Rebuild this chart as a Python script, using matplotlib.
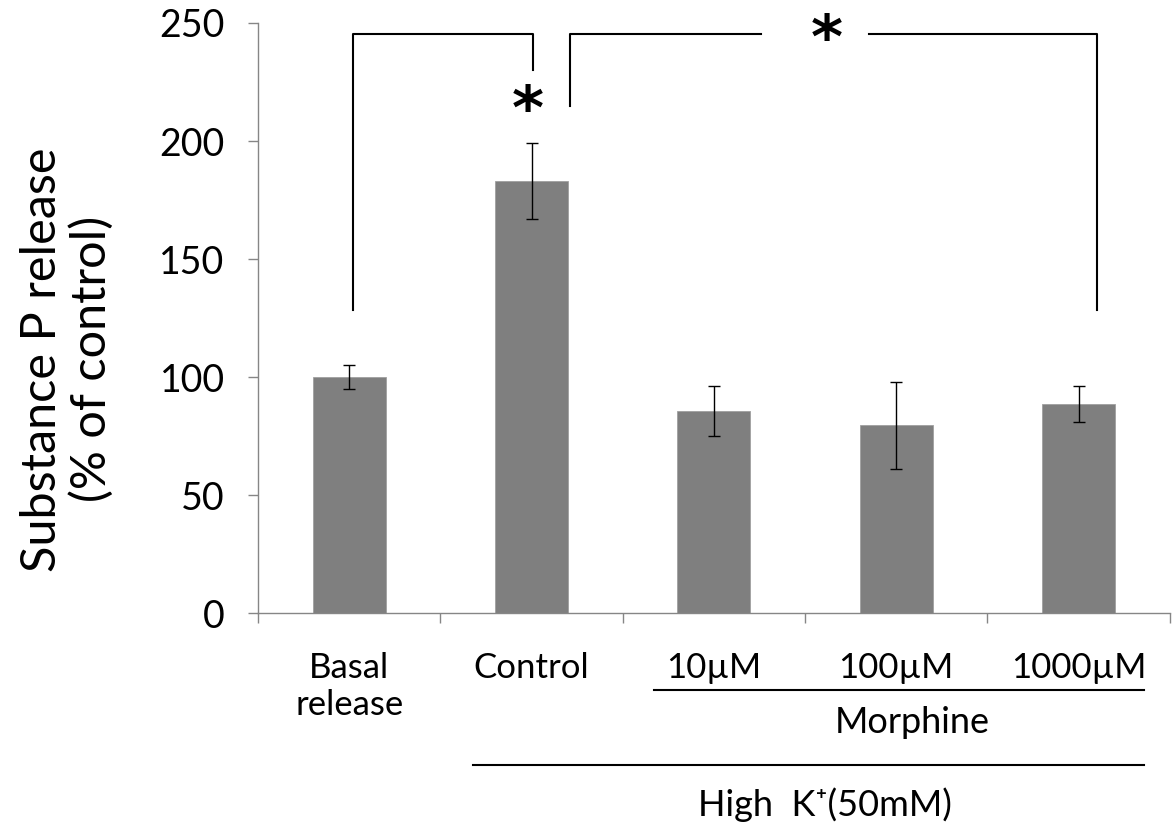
import matplotlib
matplotlib.use("Agg")
import matplotlib.pyplot as plt
import numpy as np

plt.rcParams['font.family'] = ['Lato', 'DejaVu Sans']

# substance P release, % of control (mean and error)
groups = ['Basal\nrelease', 'Control', '10µM', '100µM', '1000µM']
release = [100, 183, 85.5, 79.5, 88.5]
err = [5, 16, 10.5, 18.3, 7.7]

fig = plt.figure(figsize=(11.72, 8.30), dpi=100)
ax = fig.add_axes([0.2201, 0.2614, 0.7780, 0.7109])

x = np.arange(len(groups))
ax.bar(x, release, width=0.4, color='#7f7f7f', edgecolor='#a0a0a0', lw=0.6, zorder=2)
ax.errorbar(x, release, yerr=err, fmt='none', ecolor='black', elinewidth=1,
            capsize=4, capthick=1, zorder=3)

ax.set_xlim(-0.5, 4.5)
ax.set_ylim(0, 250)
ax.set_yticks(np.arange(0, 251, 50))
ax.tick_params(axis='y', labelsize=27, length=7, color='#868686', pad=17, width=1)

ax.set_xticks(x)
ax.set_xticklabels(groups, fontsize=25, linespacing=1.2, va='top')
ax.set_xticks(np.arange(-0.5, 4.6, 1), minor=True)
ax.tick_params(axis='x', which='major', length=0, pad=28)
ax.tick_params(axis='x', which='minor', length=7, color='#868686', width=1)

for s in ['top', 'right']:
    ax.spines[s].set_visible(False)
for s in ['left', 'bottom']:
    ax.spines[s].set_color('#868686')
    ax.spines[s].set_linewidth(1)

ax.set_ylabel('Substance P release\n(% of control)', fontsize=35, linespacing=1.15)
ax.yaxis.set_label_coords(-0.158, 0.43)

# significance brackets
bk = dict(color='black', lw=1.5, clip_on=False, zorder=4)
ax.plot([0.02, 0.02, 1.01, 1.01], [128.4, 245.3, 245.3, 230], **bk)
ax.plot([2.26, 1.21, 1.21], [245.3, 245.3, 214.8], **bk)
ax.plot([2.85, 4.10, 4.10], [245.3, 245.3, 128.4], **bk)
ax.text(0.98, 212, '*', fontsize=44, fontweight='bold', ha='center', va='center',
        family='DejaVu Sans')
ax.text(2.62, 242, '*', fontsize=44, fontweight='bold', ha='center', va='center',
        family='DejaVu Sans')

# group labels under the axis
ax.plot([1.67, 4.36], [-32.6, -32.6], color='black', lw=1.5, clip_on=False)
ax.text(3.09, -46.2, 'Morphine', fontsize=26, ha='center', va='center')
ax.plot([0.68, 4.36], [-64.4, -64.4], color='black', lw=1.5, clip_on=False)
ax.text(2.61, -81.4, 'High  K\u207a(50mM)', fontsize=26, ha='center', va='center')

fig.savefig('out.png', dpi=100, facecolor='white')
